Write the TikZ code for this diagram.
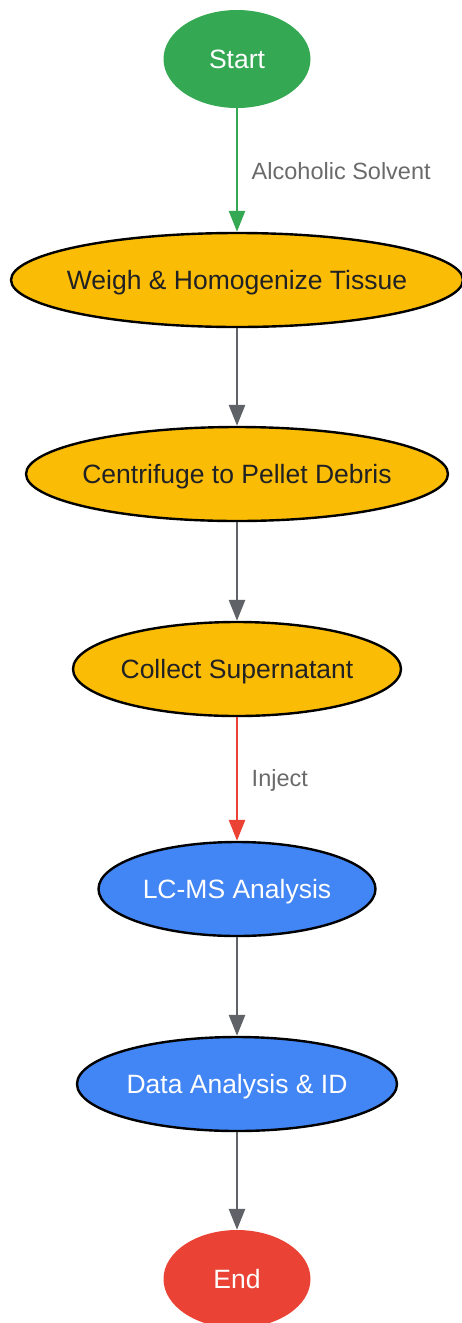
\documentclass[tikz,border=0pt]{standalone}
\usepackage{fontspec}
\setmainfont{Liberation Sans}
\usetikzlibrary{shapes.geometric,arrows.meta}

\definecolor{gGreen}{HTML}{34A853}
\definecolor{gYellow}{HTML}{FBBC05}
\definecolor{gBlue}{HTML}{4285F4}
\definecolor{gRed}{HTML}{EA4335}
\definecolor{gGray}{HTML}{5F6368}
\definecolor{gLabel}{HTML}{6A6A6A}
\definecolor{gText}{HTML}{202124}

\newcommand{\ntext}[1]{\makebox[0pt]{#1}}

\tikzset{>={Triangle[width=16pt,length=21pt]}}

\begin{document}
\begin{tikzpicture}[x=1pt,y=-1pt]
	\tikzstyle{terminal} = [ellipse, inner sep=0pt, minimum width=147pt, minimum height=98pt, text=white, text height=19pt, text depth=0pt, font=\fontsize{26.5}{30}\selectfont]
	\tikzstyle{prep} = [ellipse, draw=black, line width=2.4pt, fill=gYellow, text=gText, inner sep=0pt, minimum height=94pt, text height=19pt, text depth=0pt, font=\fontsize{26.5}{30}\selectfont]
	\tikzstyle{analysis} = [prep, fill=gBlue, text=white]
	\tikzstyle{flow} = [->, line width=2.8pt, draw=gGray]
	\tikzstyle{edge_lbl} = [midway, anchor=west, xshift=10pt, yshift=-1pt, text=gLabel, font=\fontsize{23.5}{28}\selectfont]

	\useasboundingbox (0,0) rectangle (462,1323);

%----------start----------------------------------------------
	\node[terminal, fill=gGreen] (start) at (237,59) {\ntext{Start}};

%----------sample preparation---------------------------------
	\node[prep, minimum width=452pt] (weigh) at (237,280) {\ntext{Weigh \& Homogenize Tissue}};
	\node[prep, minimum width=422pt] (centrifuge) at (237,474) {\ntext{Centrifuge to Pellet Debris}};
	\node[prep, minimum width=328pt] (collect) at (237,669) {\ntext{Collect Supernatant}};

	\path (start) edge[flow, draw=gGreen] node[edge_lbl] {Alcoholic Solvent} (weigh);
	\path (weigh) edge[flow] (centrifuge);
	\path (centrifuge) edge[flow] (collect);

%----------analysis-------------------------------------------
	\node[analysis, minimum width=277pt] (lcms) at (237,889) {\ntext{LC-MS Analysis}};
	\node[analysis, minimum width=320pt] (data) at (237,1084) {\ntext{Data Analysis \& ID}};

	\path (collect) edge[flow, draw=gRed] node[edge_lbl] {Inject} (lcms);
	\path (lcms) edge[flow] (data);

%----------end------------------------------------------------
	\node[terminal, fill=gRed] (end) at (237,1279) {\ntext{End}};

	\path (data) edge[flow] (end);
\end{tikzpicture}
\end{document}
